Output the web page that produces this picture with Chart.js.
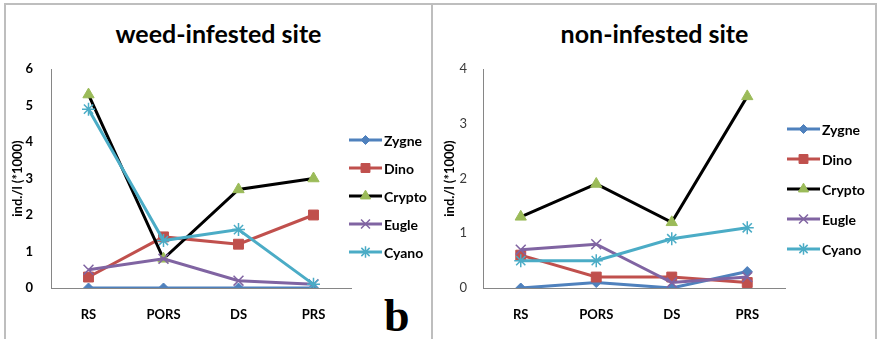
<!DOCTYPE html>
<html>
<head>
<meta charset="utf-8">
<script src="https://cdn.jsdelivr.net/npm/chart.js@4.4.1/dist/chart.umd.min.js"></script>
<style>
  html, body { margin: 0; padding: 0; background: #fff; }
  #wrap { position: relative; width: 881px; height: 339px; overflow: hidden; background: #fff; }
  .rule { position: absolute; background: #BEBEBE; }
  .title { position: absolute; top: 16px; height: 34px; line-height: 34px; text-align: center;
           font-family: Lato, "Open Sans", sans-serif; font-weight: 700; font-size: 25px; color: #000; }
  .tag { position: absolute; left: 384px; top: 291px; font-family: "Liberation Serif", "DejaVu Serif", serif;
         font-weight: 700; font-size: 46px; line-height: 50px; color: #000; }
  canvas { position: absolute; top: 0; }
</style>
</head>
<body>
<div id="wrap">
  <div class="rule" style="left:4px;top:3px;width:873px;height:2px;"></div>
  <div class="rule" style="left:4px;top:3px;width:2px;height:340px;"></div>
  <div class="rule" style="left:431px;top:3px;width:2px;height:340px;"></div>
  <div class="rule" style="left:875px;top:3px;width:2px;height:340px;"></div>
  <div class="title" style="left:5px;width:427px;">weed-infested site</div>
  <div class="title" style="left:433px;width:443px;">non-infested site</div>
  <div class="tag">b</div>
  <div style="position:absolute;left:0;top:0;width:432px;height:339px;"><canvas id="weed"></canvas></div>
  <div style="position:absolute;left:432px;top:0;width:449px;height:339px;"><canvas id="non"></canvas></div>
</div>
<script>
// Sampling stations and taxa
const categories = ['RS', 'PORS', 'DS', 'PRS'];
const seriesNames = ['Zygne', 'Dino', 'Crypto', 'Eugle', 'Cyano'];

// Abundance, ind./l (*1000) — weed-infested site
const weedZygne  = [0, 0, 0, 0];
const weedDino   = [0.3, 1.4, 1.2, 2.0];
const weedCrypto = [5.3, 0.8, 2.7, 3.0];
const weedEugle  = [0.5, 0.8, 0.2, 0.1];
const weedCyano  = [4.9, 1.3, 1.6, 0.1];

// Abundance, ind./l (*1000) — non-infested site
const nonZygne  = [0, 0.1, 0, 0.3];
const nonDino   = [0.6, 0.2, 0.2, 0.1];
const nonCrypto = [1.3, 1.9, 1.2, 3.5];
const nonEugle  = [0.7, 0.8, 0.1, 0.2];
const nonCyano  = [0.5, 0.5, 0.9, 1.1];

// Value-axis ticks
const weedTicks = [0, 1, 2, 3, 4, 5, 6];
const nonTicks  = [0, 1, 2, 3, 4];

const yTitle = 'ind./l (*1000)';

// Line and marker look for each taxon
const looks = [
  { line: '#4F81BD', fill: '#4F81BD', edge: '#4F81BD', style: 'rectRot',  r: 5,   bw: 1 },
  { line: '#C0504D', fill: '#C0504D', edge: '#C0504D', style: 'rect',     r: 7,   bw: 1 },
  { line: '#000000', fill: '#9BBB59', edge: '#9BBB59', style: 'triangle', r: 6.5, bw: 1 },
  { line: '#8064A2', fill: 'rgba(0,0,0,0)', edge: '#8064A2', style: 'crossRot', r: 7, bw: 1.5 },
  { line: '#4BACC6', fill: 'rgba(0,0,0,0)', edge: '#4BACC6', style: 'star',  r: 6.5, bw: 1.5 }
];

function buildDatasets(values) {
  return values.map((vals, i) => ({
    label: seriesNames[i],
    data: vals,
    borderColor: looks[i].line,
    borderWidth: 3,
    pointStyle: looks[i].style,
    pointRadius: looks[i].r,
    pointHoverRadius: looks[i].r,
    pointBackgroundColor: looks[i].fill,
    pointBorderColor: looks[i].edge,
    pointBorderWidth: looks[i].bw,
    tension: 0,
    fill: false,
    // later taxa sit on top of earlier ones
    order: values.length - 1 - i
  }));
}

// Marker drawing with a small fallback in case helpers are not exposed
function marker(ctx, look, x, y, r) {
  ctx.save();
  ctx.fillStyle = look.fill;
  ctx.strokeStyle = look.edge;
  ctx.lineWidth = look.bw;
  if (Chart.helpers && Chart.helpers.drawPoint) {
    Chart.helpers.drawPoint(ctx, { pointStyle: look.style, radius: r, rotation: 0, borderWidth: look.bw }, x, y);
  } else {
    ctx.beginPath();
    ctx.arc(x, y, r * 0.7, 0, Math.PI * 2);
    ctx.fill(); ctx.stroke();
  }
  ctx.restore();
}

// Series key drawn at the right of each plot
const seriesKey = {
  id: 'seriesKey',
  afterDraw(chart, args, opts) {
    const ctx = chart.ctx;
    chart.data.datasets.forEach((ds, i) => {
      const look = looks[i];
      const y = opts.y0 + i * opts.dy;
      const x0 = opts.x, x1 = opts.x + 33;
      ctx.save();
      ctx.strokeStyle = look.line;
      ctx.lineWidth = 3;
      ctx.beginPath();
      ctx.moveTo(x0, y); ctx.lineTo(x1, y);
      ctx.stroke();
      ctx.restore();
      marker(ctx, look, (x0 + x1) / 2, y, look.r * 0.9);
      ctx.save();
      ctx.fillStyle = '#000';
      ctx.font = '700 14px Lato, "Open Sans", sans-serif';
      ctx.textBaseline = 'middle';
      ctx.textAlign = 'left';
      ctx.fillText(ds.label, x1 + 2, y + 1);
      ctx.restore();
    });
  }
};

function makeChart(id, values, ticks, cfg) {
  const maxV = ticks[ticks.length - 1];
  return new Chart(document.getElementById(id), {
    type: 'line',
    data: { labels: categories, datasets: buildDatasets(values) },
    plugins: [seriesKey],
    options: {
      responsive: true,
      maintainAspectRatio: false,
      animation: false,
      events: [],
      layout: { padding: { top: 69, right: cfg.padRight, bottom: 0, left: 0 } },
      plugins: {
        legend: { display: false },
        tooltip: { enabled: false },
        title: { display: false },
        seriesKey: cfg.key
      },
      scales: {
        x: {
          type: 'category',
          offset: true,
          grid: { display: false, drawTicks: false },
          border: { display: true, color: '#868686', width: 1 },
          ticks: { color: '#000', padding: 19, font: { family: 'Lato', weight: '700', size: 13 } },
          afterFit: s => { s.height = 51; }
        },
        y: {
          min: 0,
          max: maxV,
          afterBuildTicks: s => { s.ticks = ticks.map(v => ({ value: v })); },
          grid: { display: false, drawTicks: false },
          border: { display: true, color: '#868686', width: 1 },
          ticks: {
            color: cfg.tickColor,
            padding: cfg.tickPad,
            font: { family: 'Lato', weight: cfg.tickWeight, size: 13 }
          },
          title: {
            display: true,
            text: yTitle,
            color: '#000',
            padding: { top: 10, bottom: 0 },
            font: { family: 'Lato', weight: '700', size: 13 }
          },
          afterFit: s => { s.width = 51; }
        }
      }
    }
  });
}

makeChart('weed',
  [weedZygne, weedDino, weedCrypto, weedEugle, weedCyano],
  weedTicks,
  { padRight: 81, tickPad: 18, tickColor: '#000', tickWeight: '700',
    key: { x: 349, y0: 140, dy: 28 } });

makeChart('non',
  [nonZygne, nonDino, nonCrypto, nonEugle, nonCyano],
  nonTicks,
  { padRight: 96, tickPad: 16, tickColor: '#3a3a3a', tickWeight: '400',
    key: { x: 355, y0: 129, dy: 30 } });
</script>
</body>
</html>
